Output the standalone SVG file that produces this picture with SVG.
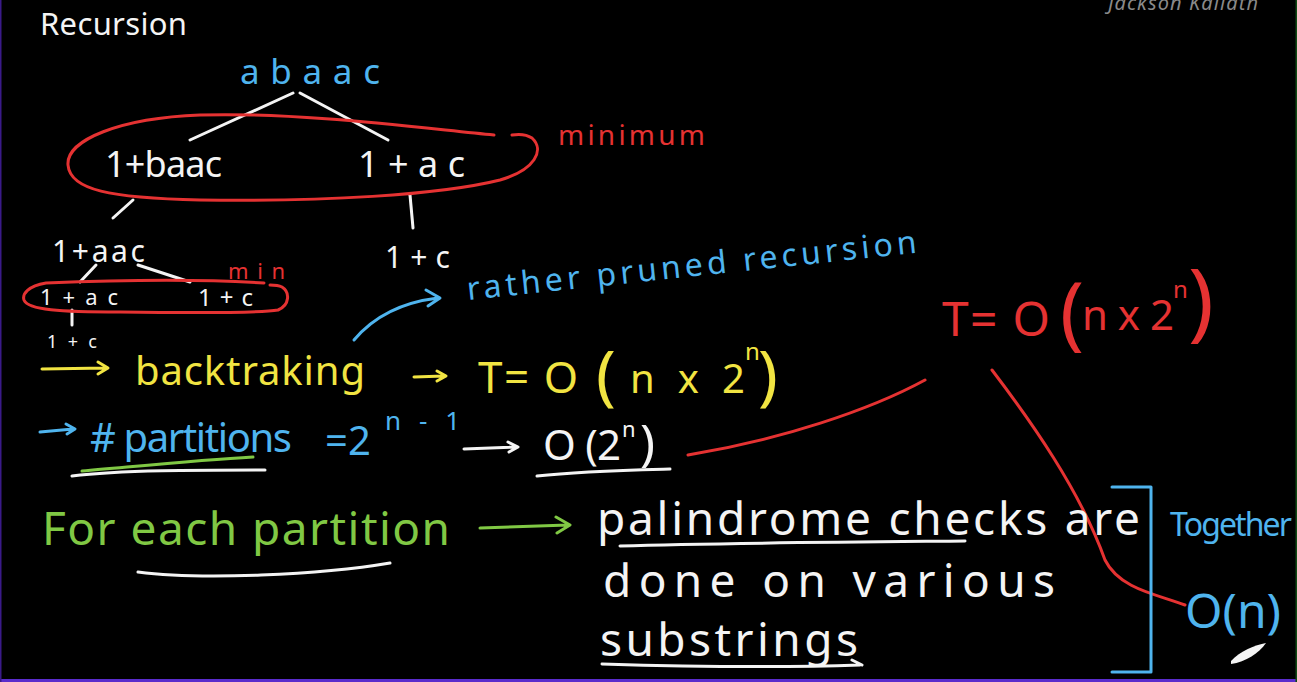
<svg xmlns="http://www.w3.org/2000/svg" width="1297" height="682" viewBox="0 0 1297 682">
<defs>
<style>
text{font-family:"Noto Sans","Liberation Sans",sans-serif;}
.w{fill:#f4f4f4}.b{fill:#4fb4ee}.r{fill:#e53232}.y{fill:#f1e442}.g{fill:#80c844}
.sw{stroke:#f4f4f4}.sb{stroke:#4fb4ee}.sr{stroke:#e53232}.sy{stroke:#f1e442}.sg{stroke:#80c844}
.ln{fill:none;stroke-width:3;stroke-linecap:round;stroke-linejoin:round}
</style>
</defs>
<rect width="1297" height="682" fill="#000"/>
<rect x="0" y="679" width="1297" height="3" fill="#5a2ccc"/>
<rect x="0" y="0" width="1.5" height="682" fill="#3a1a88"/>
<rect x="1295.5" y="0" width="1.5" height="682" fill="#0f4a14"/>

<g id="header">
<text x="40" y="35" font-size="31" class="w" textLength="147" font-family="Open Sans">Recursion</text>
<text x="1108" y="10" font-size="20" font-style="italic" fill="#8a8a8a" textLength="150">Jackson Kallath</text>
</g>

<g id="connectors" class="ln">
<path class="sw" d="M293,93 L190,140"/>
<path class="sw" d="M300,93 L388,140"/>
<path class="sw" d="M133,200 L113,218"/>
<path class="sw" d="M410,195 L413,228"/>
<path class="sw" d="M96,265 L80,282"/>
<path class="sw" d="M138,265 L190,282"/>
<path class="sw" d="M72,310 L72,325"/>
<path class="sb" d="M354,340 C375,315 405,302 438,298 M426,290 L440,298 L428,306"/>
<path class="sy" d="M42,369 L106,368 M98,362 L108,368 L98,374"/>
<path class="sy" d="M414,377 L444,376 M437,371 L446,376 L437,381"/>
<path class="sb" d="M40,432 L73,429 M66,424 L75,429 L67,434"/>
<path class="sw" d="M464,449 L516,447 M508,442 L518,447 L509,452"/>
<path class="sw" d="M72,476 C120,470 200,470 265,470"/>
<path class="sg" d="M82,471 C140,466 200,460 253,457"/>
<path class="sw" d="M537,476 C580,471 630,470 670,469"/>
<path class="sg" d="M480,528 C510,527 540,526 568,525 M556,517 L570,525 L557,533"/>
<path class="sw" d="M138,572 C200,580 320,575 390,563"/>
<path class="sw" d="M620,546 C720,543 860,542 965,541"/>
<path class="sw" d="M602,664 C700,667 800,667 860,665 M852,660 L862,665"/>
<path class="sr" d="M688,455 C780,440 870,410 925,380"/>
<path class="sr" d="M992,370 C1030,420 1080,490 1105,560 C1120,590 1160,595 1185,605"/>
<path class="sr" d="M494,135 C420,128 300,112 200,115 C120,118 66,140 68,165 C70,190 110,198 200,200 C320,202 440,195 500,180 C535,170 545,150 532,138 C526,134 518,134 512,135"/>
<path class="sr" d="M264,283 C200,279 120,280 46,283 C28,286 22,294 24,300 C28,310 60,312 120,312 C200,313 260,313 278,310 C290,305 290,292 282,287 C278,285 274,285 270,285"/>
<path class="sb" d="M1112,487 L1151,487 L1151,672 L1112,672"/>
</g>

<g id="node-root"><text x="240" y="84" font-size="35" class="b" textLength="140">abaac</text></g>
<g id="node-minimum"><text x="558" y="145" font-size="28" class="r" textLength="147">minimum</text></g>
<g id="node-1baac"><text x="105" y="177" font-size="36" class="w" textLength="117">1+baac</text></g>
<g id="node-1ac"><text x="358" y="177" font-size="36" class="w" textLength="107">1+ac</text></g>
<g id="node-1aac"><text x="52" y="262" font-size="30" class="w" textLength="93">1+aac</text></g>
<g id="node-1c-right"><text x="385" y="268" font-size="30" class="w" textLength="65">1+c</text></g>
<g id="node-min"><text x="228" y="279" font-size="22" class="r" textLength="57">min</text></g>
<g id="node-1ac-small"><text x="40" y="305" font-size="22" class="w" textLength="78">1+ac</text></g>
<g id="node-1c-small"><text x="198" y="306" font-size="24" class="w" textLength="55">1+c</text></g>
<g id="node-1c-tiny"><text x="47" y="348" font-size="18" class="w" textLength="50">1+c</text></g>

<g id="node-pruned"><text x="468" y="300" font-size="32" class="b" textLength="452" transform="rotate(-6 468 300)">rather pruned recursion</text></g>

<g id="node-backtracking">
<text x="135" y="385" font-size="40" class="y" textLength="230">backtraking</text>
<text x="478" y="393" font-size="44" class="y" textLength="100">T= O</text>
<text x="596" y="398" font-size="66" class="y">(</text>
<text x="630" y="393" font-size="40" class="y" textLength="115">n x 2</text>
<text x="745" y="360" font-size="24" class="y">n</text>
<text x="758" y="398" font-size="66" class="y">)</text>
</g>

<g id="node-partitions">
<text x="90" y="452" font-size="40" class="b" textLength="202"># partitions</text>
<text x="325" y="455" font-size="40" class="b">=</text>
<text x="348" y="455" font-size="40" class="b">2</text>
<text x="385" y="430" font-size="26" class="b" textLength="75">n - 1</text>
<text x="543" y="460" font-size="42" class="w" textLength="78">O (2</text>
<text x="622" y="437" font-size="22" class="w">n</text>
<text x="640" y="460" font-size="50" class="w">)</text>
</g>

<g id="node-total">
<text x="942" y="336" font-size="48" class="r" textLength="108">T= O</text>
<text x="1060" y="340" font-size="80" class="r">(</text>
<text x="1082" y="330" font-size="42" class="r" textLength="92">nx2</text>
<text x="1173" y="298" font-size="24" class="r">n</text>
<text x="1188" y="330" font-size="86" class="r">)</text>
</g>

<g id="node-each"><text x="42" y="545" font-size="46" class="g" textLength="408">For each partition</text></g>

<g id="node-palindrome">
<text x="597" y="535" font-size="46" class="w" textLength="543">palindrome checks are</text>
<text x="603" y="597" font-size="46" class="w" textLength="452">done on various</text>
<text x="600" y="656" font-size="46" class="w" textLength="258">substrings</text>
</g>

<g id="node-together">
<text x="1170" y="536" font-size="32" class="b" textLength="122">Together</text>
<text x="1185" y="628" font-size="48" class="b">O(n)</text>
</g>

<g id="cursor"><path d="M1231,661 C1240,651 1255,645 1266,643 C1259,653 1246,662 1231,664 Z" fill="#f4f4f4"/></g>
</svg>
